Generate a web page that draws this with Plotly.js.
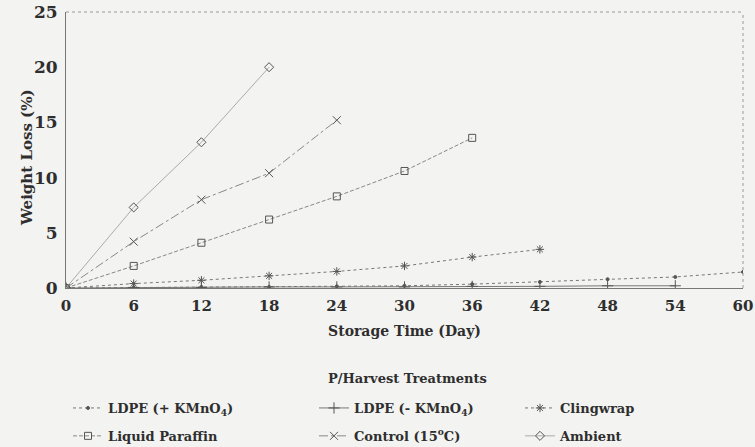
<!DOCTYPE html>
<html>
<head>
<meta charset="utf-8">
<script src="https://cdn.plot.ly/plotly-3.0.1.min.js"></script>
<style>html,body{margin:0;padding:0;background:#f3f3f1;}</style>
</head>
<body>
<div id="chart" style="width:755px;height:447px;"></div>
<script>
// Data
const days = [0, 6, 12, 18, 24, 30, 36, 42, 48, 54, 60];
const ldpePlus  = [0, 0.05, 0.1, 0.1, 0.15, 0.2, 0.35, 0.55, 0.8, 1.0, 1.45];
const ldpeMinus = [0, 0.05, 0.05, 0.1, 0.1, 0.1, 0.15, 0.15, 0.2, 0.2];
const clingwrap = [0, 0.4, 0.7, 1.1, 1.5, 2.0, 2.8, 3.5];
const liquidParaffin = [0, 2.0, 4.1, 6.2, 8.3, 10.6, 13.6];
const control15 = [0, 4.2, 8.0, 10.4, 15.2];
const ambient = [0, 7.3, 13.2, 20.0];
const names = ['LDPE (+ KMnO<sub>4</sub>)', 'LDPE (- KMnO<sub>4</sub>)', 'Clingwrap',
               'Liquid Paraffin', 'Control (15<sup>o</sup>C)', 'Ambient'];
const xTicks = [0, 6, 12, 18, 24, 30, 36, 42, 48, 54, 60];
const yTicks = [0, 5, 10, 15, 20, 25];
const xTitle = 'Storage Time (Day)';
const yTitle = 'Weight Loss (%)';
const legendTitle = 'P/Harvest Treatments';

const font = 'DejaVu Serif, Liberation Serif, serif';
const txt = '#2e2e2e';
function tr(y, name, sym, size, dash, lc, leg, grp) {
  return {
    x: days.slice(0, y.length), y: y, name: name, type: 'scatter', mode: 'lines+markers',
    legend: leg, legendgroup: grp,
    line: {color: lc, width: 1, dash: dash},
    marker: {symbol: sym, size: size, color: '#555', line: {color: '#555', width: 1}}
  };
}
const data = [
  tr(ldpePlus, names[0], 'circle', 3, 'dot', '#777', 'legend', 'a'),
  tr(ldpeMinus, names[1], 'cross-thin-open', 8, 'solid', '#777', 'legend2', 'b'),
  tr(clingwrap, names[2], 'asterisk-open', 7, 'dot', '#777', 'legend3', 'c'),
  tr(liquidParaffin, names[3], 'square-open', 7, '4px,2px', '#888', 'legend', 'd'),
  tr(control15, names[4], 'x-thin-open', 8, 'dashdot', '#888', 'legend2', 'e'),
  tr(ambient, names[5], 'diamond-open', 7, 'solid', '#aaa', 'legend3', 'f')
];
function leg(xpx) {
  return {
    orientation: 'v', xref: 'container', yref: 'container', x: xpx / 755, y: (447 - 393) / 447,
    xanchor: 'left', yanchor: 'top', bgcolor: 'rgba(0,0,0,0)', traceorder: 'grouped',
    tracegroupgap: 8, borderwidth: 0,
    font: {family: font, size: 13, color: txt, weight: 'bold'}
  };
}
const layout = {
  width: 755, height: 447,
  paper_bgcolor: '#f3f3f1', plot_bgcolor: '#f3f3f1',
  margin: {l: 66, r: 12, t: 12, b: 159, autoexpand: false},
  font: {family: font, color: txt},
  showlegend: true,
  xaxis: {
    range: [0, 60], tickvals: xTicks, ticktext: xTicks.map(String),
    showgrid: false, zeroline: false, showline: true, linecolor: '#777', linewidth: 1,
    ticks: 'outside', ticklen: 4, tickcolor: 'rgba(0,0,0,0)',
    tickfont: {family: font, size: 15, color: txt, weight: 'bold'},
    title: {text: '<b>' + xTitle + '</b>', font: {family: font, size: 14, color: txt}, standoff: 12}
  },
  yaxis: {
    range: [0, 25], tickvals: yTicks, ticktext: yTicks.map(String),
    showgrid: false, zeroline: false, showline: true, linecolor: '#777', linewidth: 1,
    ticks: 'outside', ticklen: 4, tickcolor: 'rgba(0,0,0,0)',
    tickfont: {family: font, size: 17, color: txt, weight: 'bold'}
  },
  shapes: [
    {type: 'line', xref: 'paper', yref: 'paper', x0: 0, x1: 1, y0: 1, y1: 1, line: {color: '#999', width: 1, dash: 'dot'}},
    {type: 'line', xref: 'paper', yref: 'paper', x0: 1, x1: 1, y0: 0, y1: 1, line: {color: '#999', width: 1, dash: 'dot'}}
  ],
  annotations: [
    {text: '<b>' + yTitle + '</b>', xref: 'paper', yref: 'paper', x: (27 - 66) / 677, y: (288 - 158) / 276,
     textangle: -90, showarrow: false, xanchor: 'center', yanchor: 'middle', font: {family: font, size: 15, color: txt}},
    {text: '<b>' + legendTitle + '</b>', xref: 'paper', yref: 'paper', x: (407 - 66) / 677, y: (288 - 378) / 276,
     showarrow: false, xanchor: 'center', yanchor: 'middle', font: {family: font, size: 13, color: txt}}
  ],
  legend: leg(68),
  legend2: leg(314),
  legend3: leg(520)
};
Plotly.newPlot('chart', data, layout, {displayModeBar: false, staticPlot: true});
</script>
</body>
</html>
